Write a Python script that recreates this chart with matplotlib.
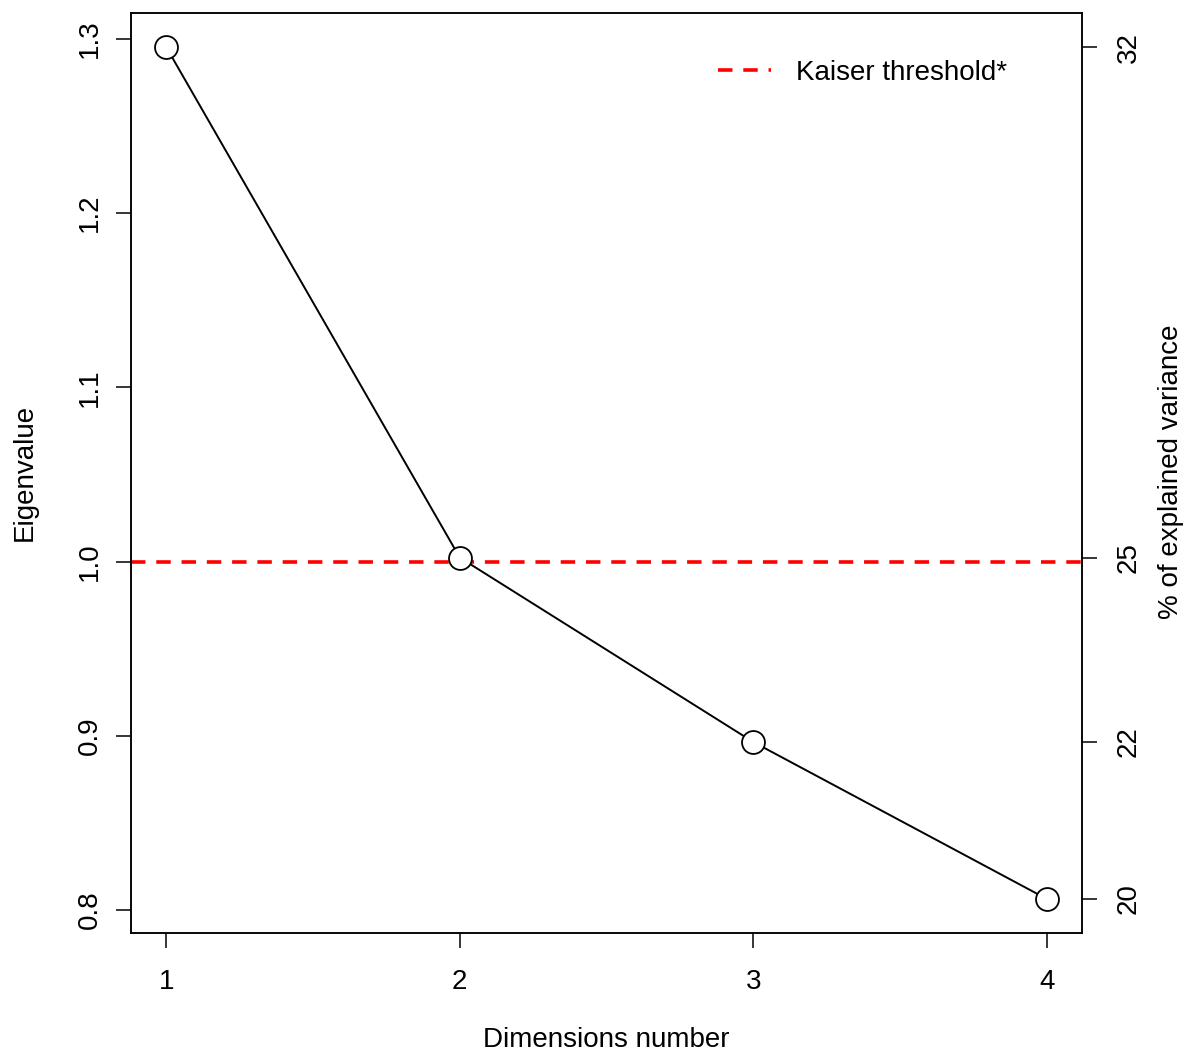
import numpy as np
import matplotlib
matplotlib.use("Agg")
import matplotlib.pyplot as plt

plt.rcParams['font.family'] = ['Liberation Sans', 'DejaVu Sans']

dims = [1, 2, 3, 4]
eigenvalues = [1.2954, 1.0023, 0.8964, 0.8063]
kaiser = 1.0
left_ticks = [0.8, 0.9, 1.0, 1.1, 1.2, 1.3]

pct = np.array(eigenvalues) / np.sum(eigenvalues) * 100
pct_labels = [str(int(round(p))) for p in pct]

W, H = 1193, 1053
fs = 20

fig = plt.figure(figsize=(W / 100, H / 100), dpi=100)
ax = fig.add_axes([131 / W, 1 - 933 / H, (1082 - 131) / W, (933 - 13) / H])

ax.plot(dims, eigenvalues, color='black', lw=1.4, zorder=2)
ax.plot(dims, eigenvalues, 'o', ms=16.5, mfc='white', mec='black', mew=1.3, zorder=3)
ax.axhline(kaiser, color='red', lw=2.6, ls=(0, (4, 3)), zorder=1,
           label='Kaiser threshold*')

span = max(eigenvalues) - min(eigenvalues)
ax.set_ylim(min(eigenvalues) - 0.04 * span, max(eigenvalues) + 0.04 * span)
ax.set_xlim(1 - 0.04 * 3, 4 + 0.04 * 3)

ax.set_xticks(dims)
ax.set_xticklabels([str(d) for d in dims])
ax.set_yticks(left_ticks)
ax.set_yticklabels([f"{t:.1f}" for t in left_ticks], rotation=90, va='center')
ax.tick_params(axis='x', labelsize=fs, length=11, width=1.1, pad=15)
ax.tick_params(axis='y', labelsize=fs, length=11, width=1.1, pad=9)

ax2 = ax.twinx()
ax2.set_ylim(ax.get_ylim())
ax2.set_yticks(eigenvalues)
ax2.set_yticklabels(pct_labels, rotation=90, va='center')
ax2.tick_params(labelsize=fs, length=11, width=1.1, pad=13.5)

for a in (ax, ax2):
    for s in a.spines.values():
        s.set_linewidth(1.1)

fig.text(606 / W, 1 - 1040 / H, 'Dimensions number', fontsize=fs, ha='center', va='center')
fig.text(25 / W, 1 - 472 / H, 'Eigenvalue', fontsize=fs, ha='center', va='center', rotation=90)
fig.text(1171 / W, 1 - 472 / H, '% of explained variance', fontsize=fs,
         ha='center', va='center', rotation=90)

leg = ax.legend(loc='center left', bbox_to_anchor=(718 / W, 1 - 73 / H),
                bbox_transform=fig.transFigure, frameon=False, fontsize=fs,
                borderpad=0, borderaxespad=0, handlelength=1.9, handletextpad=0.9)

fig.savefig('out.png', dpi=100)
